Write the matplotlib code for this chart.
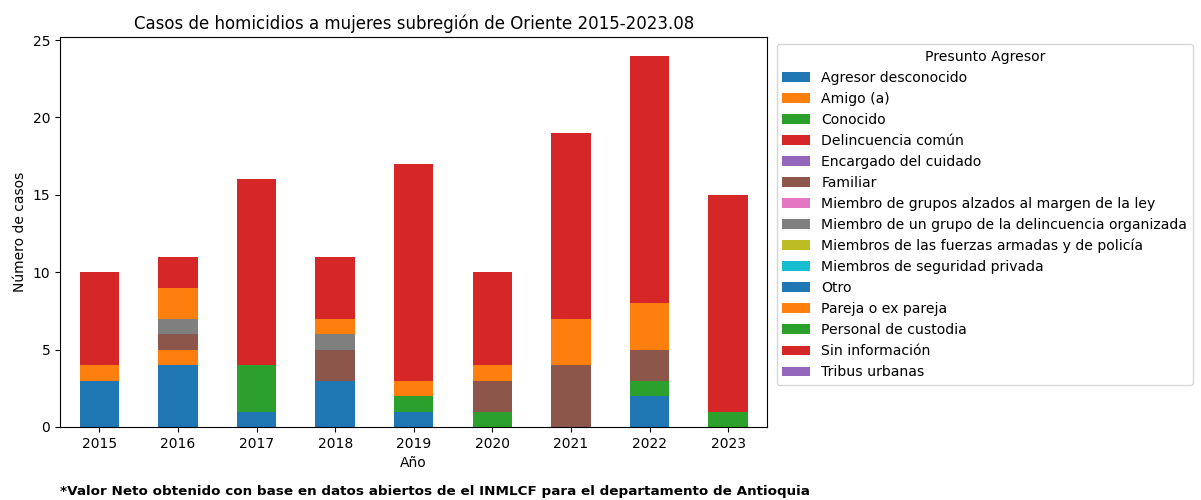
import matplotlib
matplotlib.use("Agg")
import matplotlib.pyplot as plt
import pandas as pd

years = ["2015", "2016", "2017", "2018", "2019", "2020", "2021", "2022", "2023"]

agresores = [
    "Agresor desconocido",
    "Amigo (a)",
    "Conocido",
    "Delincuencia común",
    "Encargado del cuidado",
    "Familiar",
    "Miembro de grupos alzados al margen de la ley",
    "Miembro de un grupo de la delincuencia organizada",
    "Miembros de las fuerzas armadas y de policía",
    "Miembros de seguridad privada",
    "Otro",
    "Pareja o ex pareja",
    "Personal de custodia",
    "Sin información",
    "Tribus urbanas",
]

# casos por agresor, un valor por año 2015..2023
agresor_desconocido = [3, 4, 1, 3, 1, 0, 0, 2, 0]
amigo = [0, 1, 0, 0, 0, 0, 0, 0, 0]
conocido = [0, 0, 3, 0, 1, 1, 0, 1, 1]
delincuencia_comun = [0, 0, 0, 0, 0, 0, 0, 0, 0]
encargado = [0, 0, 0, 0, 0, 0, 0, 0, 0]
familiar = [0, 1, 0, 2, 0, 2, 4, 2, 0]
grupos_alzados = [0, 0, 0, 0, 0, 0, 0, 0, 0]
delincuencia_org = [0, 1, 0, 1, 0, 0, 0, 0, 0]
fuerzas_armadas = [0, 0, 0, 0, 0, 0, 0, 0, 0]
seguridad_privada = [0, 0, 0, 0, 0, 0, 0, 0, 0]
otro = [0, 0, 0, 0, 0, 0, 0, 0, 0]
pareja = [1, 2, 0, 1, 1, 1, 3, 3, 0]
custodia = [0, 0, 0, 0, 0, 0, 0, 0, 0]
sin_informacion = [6, 2, 12, 4, 14, 6, 12, 16, 14]
tribus = [0, 0, 0, 0, 0, 0, 0, 0, 0]

series = [agresor_desconocido, amigo, conocido, delincuencia_comun, encargado,
          familiar, grupos_alzados, delincuencia_org, fuerzas_armadas,
          seguridad_privada, otro, pareja, custodia, sin_informacion, tribus]

df = pd.DataFrame(dict(zip(agresores, series)), index=years)

fig, ax = plt.subplots(figsize=(12.01, 5.0), dpi=100)
df.plot(kind="bar", stacked=True, ax=ax, rot=0)

ax.set_title("Casos de homicidios a mujeres subregión de Oriente 2015-2023.08")
ax.set_xlabel("Año")
ax.set_ylabel("Número de casos")
ax.legend(title="Presunto Agresor", loc="upper left",
          bbox_to_anchor=(1.003, 1.0), fontsize=10.1, title_fontsize=10.1)

fig.subplots_adjust(left=0.05, right=0.639, top=0.926, bottom=0.146)
fig.text(0.05, 0.01,
         "*Valor Neto obtenido con base en datos abiertos de el INMLCF para el departamento de Antioquia",
         fontweight="bold", fontsize=9.7)

fig.savefig("out.png", dpi=100)
